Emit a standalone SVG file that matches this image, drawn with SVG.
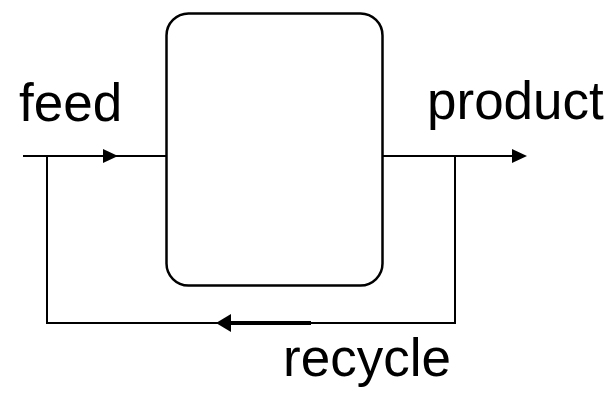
<svg xmlns="http://www.w3.org/2000/svg" width="613" height="394" viewBox="0 0 613 394">
<style>
.lbl{font-family:"Liberation Sans",Arial,sans-serif;font-size:53px;fill:#000}
.ln{fill:none;stroke:#000;stroke-width:2}
.thick{fill:none;stroke:#000;stroke-width:4}
.head{fill:#000}
</style>
<rect width="613" height="394" fill="#fff"/>
<g id="reactor">
<rect x="166.5" y="13.5" width="216" height="272" rx="22" ry="22" fill="#fff" stroke="#000" stroke-width="2.5"/>
</g>
<g id="connectors">
<path class="ln" d="M23,156 H166"/>
<path class="head" d="M103,149 L118,156 L103,163 Z"/>
<path class="ln" d="M47,156 V323 H455 V156"/>
<path class="ln" d="M383,156 H514"/>
<path class="head" d="M512,149 L527,156 L512,163 Z"/>
<path class="thick" d="M311,323 H228"/>
<path class="head" d="M231,314 L216,323 L231,332 Z"/>
</g>
<g id="labels">
<text class="lbl" x="19" y="121">feed</text>
<text class="lbl" x="427" y="119">product</text>
<text class="lbl" x="283" y="376">recycle</text>
</g>
</svg>
